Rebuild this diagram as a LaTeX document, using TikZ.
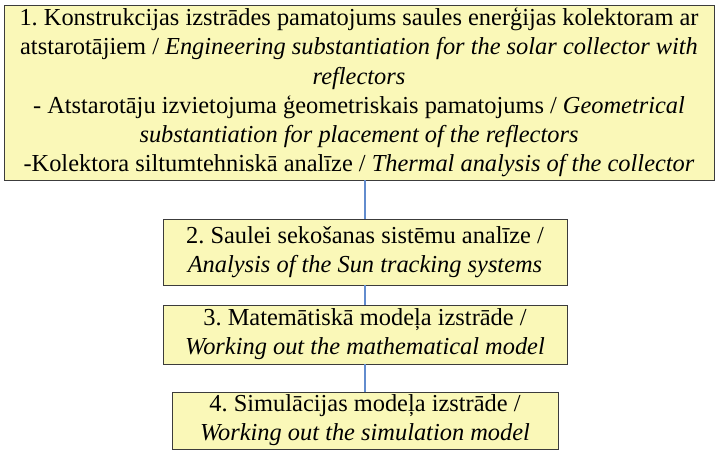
\documentclass[tikz,border=0pt]{standalone}
\usepackage{fontspec}
\setmainfont{Liberation Serif}
\usepackage{xcolor}
\usepackage{tikz}
\usetikzlibrary{positioning}
\definecolor{AmarilloCaja}{RGB}{250,248,184}
\definecolor{AzulLinea}{RGB}{98,140,206}
\definecolor{BordeCaja}{RGB}{60,60,60}
\frenchspacing

\begin{document}
\begin{tikzpicture}[x=1pt,y=1pt,
  caja/.style={draw=BordeCaja,line width=0.9pt,fill=AmarilloCaja,inner sep=0pt,align=center,
    font=\fontsize{24.4}{29.2}\selectfont},
  enlace/.style={draw=AzulLinea,line width=1.3pt}]
  \useasboundingbox (0,0) rectangle (716,452);
  \node[caja,minimum width=710,minimum height=175] (paso1) at (359,359.5)
    {1. Konstrukcijas izstrādes pamatojums saules enerģijas kolektoram ar\\
     atstarotājiem / \textit{Engineering substantiation for the solar collector with}\\
     \textit{reflectors}\\
     - Atstarotāju izvietojuma ģeometriskais pamatojums / \textit{Geometrical}\\
     \textit{substantiation for placement of the reflectors}\\
     -Kolektora siltumtehniskā analīze / \textit{Thermal analysis of the collector}};
  \node[caja,minimum width=404,minimum height=66] (paso2) at (365,200)
    {2. Saulei sekošanas sistēmu analīze /\\ \textit{Analysis of the Sun tracking systems}};
  \node[caja,minimum width=404,minimum height=59] (paso3) at (365,117.5)
    {3. Matemātiskā modeļa izstrāde /\\ \textit{Working out the mathematical model}};
  \node[caja,minimum width=386,minimum height=57] (paso4) at (365,31.5)
    {4. Simulācijas modeļa izstrāde /\\ \textit{Working out the simulation model}};
  % lineas entre pasos
  \draw[enlace] (paso2.north |- paso1.south) -- (paso2.north);
  \draw[enlace] (paso2.south) -- (paso3.north);
  \draw[enlace] (paso3.south) -- (paso4.north);
\end{tikzpicture}
\end{document}
